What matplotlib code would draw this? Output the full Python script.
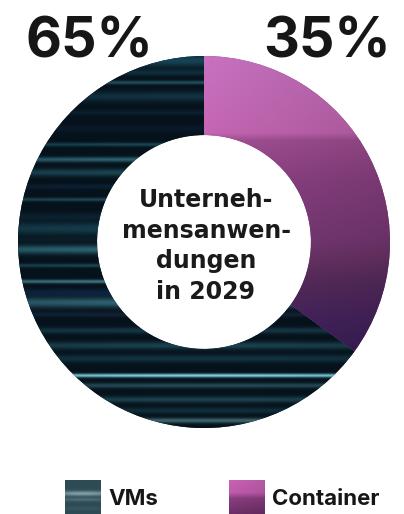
import numpy as np
import matplotlib
matplotlib.use('Agg')
import matplotlib.pyplot as plt
from matplotlib.colors import to_rgb

# Daten
labels = ['VMs', 'Container']
shares = [65, 35]
pct_labels = ['65%', '35%']
center_text = 'Unterneh-\nmensanwen-\ndungen\nin 2029'

W, H = 404, 514
plt.rcParams['font.family'] = ['Inter', 'DejaVu Sans']

fig = plt.figure(figsize=(W / 100, H / 100), dpi=100)
ax = fig.add_axes([0, 0, 1, 1])

# donut in pixel coordinates (y up)
cx, cy, R = 204, H - 242, 186
wedges, _ = ax.pie(shares, radius=R, center=(cx, cy), startangle=90,
                   counterclock=True, colors=['#071822', '#7a3a78'],
                   wedgeprops=dict(width=R * 0.425, linewidth=0))


def streaks_img(h, w, base, streaks):
    img = np.ones((h, w, 3)) * np.array(to_rgb(base))
    rows = np.arange(h)[:, None]
    xs = np.linspace(0, 1, w)[None, :]
    for y0, th, col, a in streaks:
        prof = np.exp(-((rows - y0) / (th / 1.6)) ** 2)
        wgt = a * prof * (0.8 + 0.2 * np.sin(np.pi * xs))
        c = np.array(to_rgb(col))
        img = img * (1 - wgt[..., None]) + c * wgt[..., None]
    return img


def vgrad_img(h, w, stops, shade=0.0):
    ys = np.array([s[0] for s in stops], dtype=float)
    cols = np.array([to_rgb(s[1]) for s in stops])
    rows = np.arange(h)
    col = np.stack([np.interp(rows, ys, cols[:, k]) for k in range(3)], axis=1)
    xs = np.linspace(0, 1, w)
    factor = 1 - shade * xs
    return col[:, None, :] * factor[None, :, None]


# VMs texture: dark with teal streaks (row, thickness, colour, strength)
vm_streaks = [
    (4, 10, '#1a5062', 0.8), (16, 5, '#123a4a', 0.7), (26, 3, '#2c6676', 0.7),
    (40, 8, '#163f52', 0.7), (56, 4, '#0d2a40', 0.6), (72, 6, '#0c1f35', 0.6),
    (88, 3, '#1f5a6a', 0.7), (103, 4, '#3d8797', 0.7), (116, 6, '#2a6878', 0.6),
    (130, 4, '#102a44', 0.6), (143, 3, '#2f6d7d', 0.6), (160, 6, '#0f2e40', 0.6),
    (172, 10, '#1c5264', 0.7), (183, 4, '#0e2630', 0.6), (193, 7, '#3a8494', 0.75),
    (209, 3, '#2b6a7a', 0.6), (225, 3, '#5aa8b8', 0.7), (236, 6, '#12305a', 0.6),
    (246, 8, '#3c7f92', 0.75), (258, 4, '#1a2c4a', 0.6), (274, 5, '#1e5060', 0.6),
    (289, 6, '#245a6a', 0.65), (302, 6, '#1a4a5a', 0.6), (319, 3, '#7fd6e4', 0.95),
    (329, 4, '#2f6070', 0.7), (343, 5, '#2a5f70', 0.6), (354, 5, '#16404e', 0.6),
    (364, 4, '#5d98a0', 0.6),
]
vm_img = streaks_img(372, 372, '#06121b', vm_streaks)
im1 = ax.imshow(vm_img, extent=(18, 390, H - 428, H - 56), aspect='auto',
                interpolation='bilinear', zorder=2)
im1.set_clip_path(wedges[0])

# Container texture: pink to purple gradient
ct_stops = [(0, '#c872c0'), (76, '#c566b3'), (84, '#a24f94'), (124, '#8e4285'),
            (184, '#7a3a78'), (204, '#6c3468'), (224, '#5a2d60'), (264, '#472460'),
            (299, '#3a1f58')]
ct_img = vgrad_img(300, 186, ct_stops, shade=0.15)
im2 = ax.imshow(ct_img, extent=(204, 390, H - 356, H - 56), aspect='auto',
                interpolation='bilinear', zorder=2)
im2.set_clip_path(wedges[1])

# Prozentwerte
ax.text(25, H - 57, pct_labels[0], fontsize=40, fontweight='bold',
        color='#161616', ha='left', va='baseline')
ax.text(391, H - 57, pct_labels[1], fontsize=40, fontweight='bold',
        color='#161616', ha='right', va='baseline')

# Mitte
ax.text(206, H - 246, center_text, fontsize=17, fontweight='bold',
        family='DejaVu Sans', color='#1a1a1a', ha='center', va='center',
        linespacing=1.35, zorder=3)

# Legende
leg_vm = streaks_img(34, 36, '#2d4b55', [(13, 4, '#8aa8ad', 0.9), (19, 3, '#5c7a80', 0.7),
                                         (28, 3, '#3f5d66', 0.6)])
ax.imshow(leg_vm, extent=(65, 101, H - 514, H - 480), aspect='auto', zorder=2)
leg_ct = vgrad_img(34, 36, [(0, '#c862b4'), (12, '#c15cad'), (18, '#8a3f80'),
                            (33, '#6e2f68')], shade=0.1)
ax.imshow(leg_ct, extent=(229, 265, H - 514, H - 480), aspect='auto', zorder=2)
ax.text(108, H - 499, labels[0], fontsize=16, fontweight='bold', color='#161616',
        ha='left', va='center')
ax.text(272, H - 499, labels[1], fontsize=16, fontweight='bold', color='#161616',
        ha='left', va='center')

ax.set_xlim(0, W)
ax.set_ylim(0, H)
ax.axis('off')

fig.savefig('out.png', dpi=100)
